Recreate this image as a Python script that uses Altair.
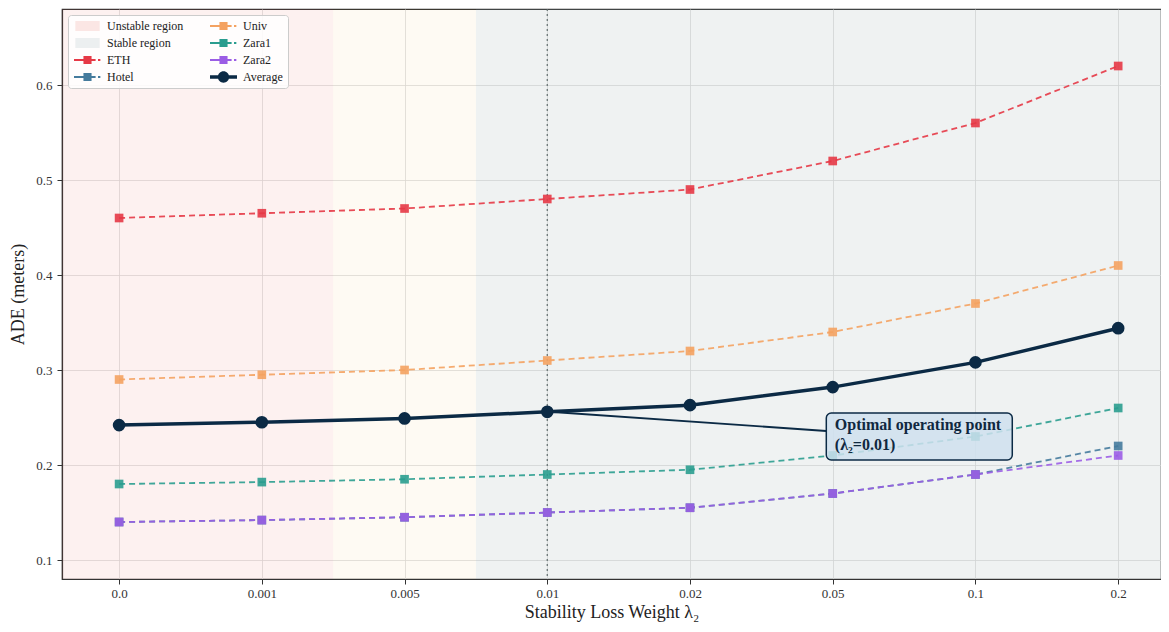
import altair as alt
import pandas as pd

# ---------------- data ----------------
lambda_labels = ["0.0", "0.001", "0.005", "0.01", "0.02", "0.05", "0.1", "0.2"]
lambda_index = [0, 1, 2, 3, 4, 5, 6, 7]

eth = [0.46, 0.465, 0.47, 0.48, 0.49, 0.52, 0.56, 0.62]
hotel = [0.14, 0.142, 0.145, 0.15, 0.155, 0.17, 0.19, 0.22]
univ = [0.29, 0.295, 0.30, 0.31, 0.32, 0.34, 0.37, 0.41]
zara1 = [0.18, 0.182, 0.185, 0.19, 0.195, 0.21, 0.23, 0.26]
zara2 = [0.14, 0.142, 0.145, 0.15, 0.155, 0.17, 0.19, 0.21]
average = [0.242, 0.245, 0.249, 0.256, 0.263, 0.282, 0.308, 0.344]

series_names = ["ETH", "Hotel", "Univ", "Zara1", "Zara2"]
series_values = [eth, hotel, univ, zara1, zara2]
series_colors = ["#e63946", "#457b9d", "#f4a261", "#2a9d8f", "#9b5de5"]
avg_color = "#0b2a45"

region_names = ["Unstable region", "Transition", "Stable region"]
region_start = [-0.4, 1.5, 2.5]
region_end = [1.5, 2.5, 7.4]
region_colors = ["#e74c3c", "#f39c12", "#95a5a6"]
region_alpha = [0.08, 0.05, 0.15]

optimal_index = 3
optimal_value = 0.256

# ---------------- tables ----------------
rows = []
for name, vals in zip(series_names, series_values):
    for i, v in zip(lambda_index, vals):
        rows.append({"series": name, "x": i, "y": v})
df = pd.DataFrame(rows)

df_avg = pd.DataFrame({"series": "Average", "x": lambda_index, "y": average})

df_regions = pd.DataFrame({
    "region": region_names, "x0": region_start, "x1": region_end,
    "alpha": region_alpha,
})

df_opt = pd.DataFrame({"x": [optimal_index]})

ann_box = pd.DataFrame({"x0": [4.955], "x1": [6.258], "y0": [0.2053], "y1": [0.2547]})
ann_arrow = pd.DataFrame({"x0": [optimal_index + 0.04], "y0": [optimal_value - 0.0002],
                          "x1": [4.955], "y1": [0.2358]})
ann_text = pd.DataFrame({"x": [5.015, 5.015], "y": [0.2425, 0.2212],
                         "t": ["Optimal operating point", "(λ₂=0.01)"]})

# legend (the 2-column grid is filled column by column)
legend_order = ["Unstable region", "Stable region", "ETH", "Hotel",
                "Univ", "Zara1", "Zara2", "Average"]
region_patch = "M-0.73,-1H4.13V1H-0.73Z"
dash_line = ("M-1,-0.22H3.32V0.22H-1Z M0.89,-0.81H2.51V0.81H0.89Z "
             "M3.8,-0.22H4.27V0.22H3.8Z")
avg_line = ("M-1,-0.35H4.4V0.35H-1Z M2.83,0A1.13,1.13 0 1,1 0.57,0"
            "A1.13,1.13 0 1,1 2.83,0Z")
legend_shapes = [region_patch, region_patch, dash_line, dash_line,
                 dash_line, dash_line, dash_line, avg_line]
legend_fills = ["#fbe6e4", "#eceff0", "#e63946", "#457b9d",
                "#f4a261", "#2a9d8f", "#9b5de5", avg_color]

FONT = "Liberation Serif"

x_scale = alt.Scale(domain=[-0.4, 7.30], nice=False, zero=False)
y_scale = alt.Scale(domain=[0.08, 0.68], nice=False, zero=False)

label_expr = "[" + ",".join("'" + s + "'" for s in lambda_labels) + "][datum.value]"

x_axis = alt.Axis(values=lambda_index, labelExpr=label_expr,
                  title="Stability Loss Weight λ₂", grid=True)
y_axis = alt.Axis(values=[0.1, 0.2, 0.3, 0.4, 0.5, 0.6], format=".1f",
                  title="ADE (meters)", grid=True)

base_x = alt.X("x:Q", scale=x_scale, axis=x_axis)
base_y = alt.Y("y:Q", scale=y_scale, axis=y_axis)

PLOT_H = 570

regions = alt.Chart(df_regions).mark_rect(clip=True).encode(
    x=alt.X("x0:Q", scale=x_scale, axis=x_axis),
    x2="x1:Q",
    y=alt.value(0),
    y2=alt.value(PLOT_H),
    color=alt.Color("region:N", scale=alt.Scale(domain=region_names, range=region_colors),
                    legend=None),
    opacity=alt.Opacity("alpha:Q", scale=None),
)

opt_rule = alt.Chart(df_opt).mark_rule(color="#4d5d5d", strokeDash=[2, 3],
                                       strokeWidth=1.3, opacity=0.8).encode(
    x=alt.X("x:Q", scale=x_scale, axis=x_axis),
)

color_enc = alt.Color("series:N", scale=alt.Scale(domain=series_names, range=series_colors),
                      legend=None)

ds_lines = alt.Chart(df).mark_line(strokeDash=[6, 4], strokeWidth=1.8, opacity=0.9).encode(
    x=base_x, y=base_y, color=color_enc, detail="series:N", order="x:Q",
)
ds_points = alt.Chart(df).mark_point(shape="square", filled=True, size=75, opacity=0.9).encode(
    x=base_x, y=base_y, color=color_enc,
)

avg_line_chart = alt.Chart(df_avg).mark_line(color=avg_color, strokeWidth=3.5).encode(
    x=base_x, y=base_y,
)
avg_points = alt.Chart(df_avg).mark_point(shape="circle", filled=True, size=160,
                                          color=avg_color, opacity=1).encode(
    x=base_x, y=base_y,
)

arrow = alt.Chart(ann_arrow).mark_rule(color=avg_color, strokeWidth=1.8).encode(
    x=alt.X("x0:Q", scale=x_scale, axis=x_axis), x2="x1:Q",
    y=alt.Y("y0:Q", scale=y_scale, axis=y_axis), y2="y1:Q",
)

box = alt.Chart(ann_box).mark_rect(fill="#cfe0ef", fillOpacity=0.85, stroke=avg_color,
                                   strokeWidth=1.5, cornerRadius=5).encode(
    x=alt.X("x0:Q", scale=x_scale, axis=x_axis), x2="x1:Q",
    y=alt.Y("y0:Q", scale=y_scale, axis=y_axis), y2="y1:Q",
)

box_text = alt.Chart(ann_text).mark_text(font=FONT, fontSize=16, fontWeight="bold",
                                         color="#10283f", align="left",
                                         baseline="middle").encode(
    x=alt.X("x:Q", scale=x_scale, axis=x_axis),
    y=alt.Y("y:Q", scale=y_scale, axis=y_axis),
    text="t:N",
)

legend_props = dict(
    title=None, orient="top-left", offset=6, columns=2, columnPadding=25,
    rowPadding=5, labelFont=FONT, labelFontSize=12, labelColor="#222222",
    symbolSize=100, symbolStrokeWidth=0, symbolOpacity=1, labelOffset=22,
    fillColor="rgba(255,255,255,0.85)", strokeColor="#cccccc", cornerRadius=3,
    padding=5,
)

legend_layer = alt.Chart(df).mark_point(filled=True, opacity=0, size=10).encode(
    x=base_x, y=base_y,
    shape=alt.Shape("series:N", scale=alt.Scale(domain=legend_order, range=legend_shapes),
                    legend=alt.Legend(**legend_props)),
    fill=alt.Fill("series:N", scale=alt.Scale(domain=legend_order, range=legend_fills),
                  legend=alt.Legend(**legend_props)),
)

chart = alt.layer(
    regions, opt_rule, ds_lines, ds_points, avg_line_chart, avg_points,
    arrow, box, box_text, legend_layer,
).resolve_scale(color="independent").properties(
    width=1099, height=PLOT_H,
    autosize=alt.AutoSizeParams(type="none"),
    padding={"left": 54, "top": 1, "right": 0, "bottom": 45},
).configure_view(
    stroke="#333333", strokeWidth=1.2,
).configure_axis(
    labelFont=FONT, labelFontSize=13, labelColor="#333333",
    titleFont=FONT, titleFontSize=18, titleFontWeight="normal", titleColor="#222222",
    domainColor="#333333", domainWidth=1.2, tickColor="#333333", tickSize=5,
    labelPadding=5, gridColor="#dcdcdc", gridWidth=0.8,
).configure_axisX(labelPadding=3, titlePadding=3).configure_axisY(titlePadding=8)

chart.save("out.html", embed_options={"renderer": "svg", "actions": False})
